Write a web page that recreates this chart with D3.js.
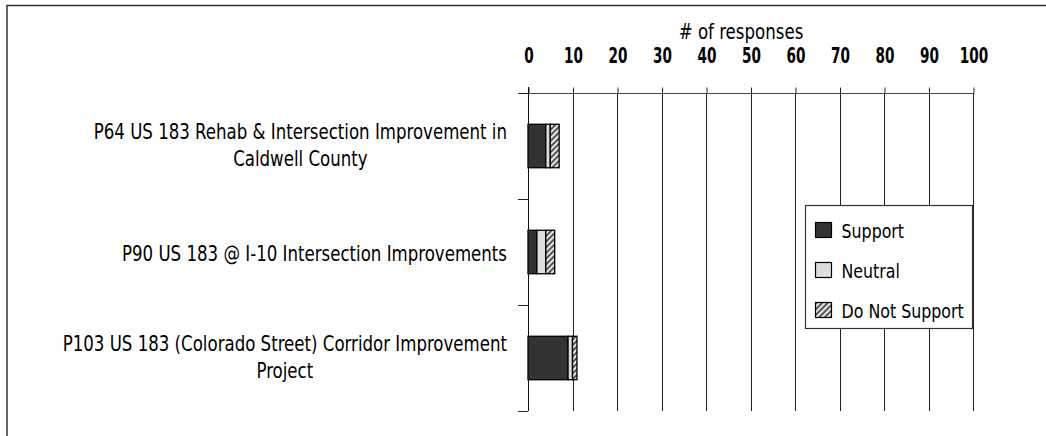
<!DOCTYPE html>
<html>
<head>
<meta charset="utf-8">
<script src="https://cdn.jsdelivr.net/npm/d3@7"></script>
<style>
  html, body { margin: 0; padding: 0; background: #fff; }
  svg { display: block; }
  text { font-family: "DejaVu Sans Condensed", "DejaVu Sans", sans-serif; fill: #000; }
</style>
</head>
<body>
<svg id="chart" width="1046" height="436"></svg>
<script>
// ---- data ----
const categories = [
  "P64 US 183 Rehab & Intersection Improvement in Caldwell County",
  "P90 US 183 @ I-10 Intersection Improvements",
  "P103 US 183 (Colorado Street) Corridor Improvement Project"
];
const categoryLines = [
  ["P64 US 183 Rehab & Intersection Improvement in", "Caldwell County"],
  ["P90 US 183 @ I-10 Intersection Improvements"],
  ["P103 US 183 (Colorado Street) Corridor Improvement", "Project"]
];
const seriesNames = ["Support", "Neutral", "Do Not Support"];
const supportValues = [4, 2, 9];
const neutralValues = [1, 2, 1];
const notSupportValues = [2, 2, 1];
const xTicks = [0, 10, 20, 30, 40, 50, 60, 70, 80, 90, 100];
const axisTitle = "# of responses";

// ---- setup ----
const svg = d3.select("#chart");
const defs = svg.append("defs");
const pat = defs.append("pattern")
  .attr("id", "hatch").attr("patternUnits", "userSpaceOnUse")
  .attr("width", 4).attr("height", 4)
  .attr("patternTransform", "rotate(45)");
pat.append("rect").attr("width", 4).attr("height", 4).attr("fill", "#e8e8e8");
pat.append("rect").attr("width", 2).attr("height", 4).attr("fill", "#555");

const fills = ["#333333", "#dddddd", "url(#hatch)"];

// narrow text helper (reference uses a condensed face)
function narrowText(parent, x, y, str, size, sx, anchor, weight) {
  return parent.append("text")
    .attr("transform", `translate(${x},${y}) scale(${sx},1)`)
    .attr("text-anchor", anchor || "start")
    .attr("font-size", size)
    .attr("font-weight", weight || "normal")
    .text(str);
}

// outer frame
svg.append("rect")
  .attr("x", 7).attr("y", 5.5).attr("width", 1100).attr("height", 500)
  .attr("fill", "none").attr("stroke", "#333").attr("stroke-width", 1.5);

const x = d3.scaleLinear().domain([0, 100]).range([528, 973]);
const yBand = d3.scaleBand().domain(categories).range([93, 411]).padding(0);
const yBar = d3.scaleBand().domain(categories).range([93, 411])
  .paddingInner(0.59).paddingOuter(0.295);

// gridlines
svg.append("g").selectAll("line").data(xTicks).join("line")
  .attr("x1", d => Math.round(x(d)) + 0.5).attr("x2", d => Math.round(x(d)) + 0.5)
  .attr("y1", 93).attr("y2", 411)
  .attr("stroke", "#222").attr("stroke-width", 1);

// top axis
const xAxis = d3.axisTop(x).tickValues(xTicks).tickSize(6).tickPadding(0).tickFormat(d3.format("d"));
const gx = svg.append("g").attr("transform", "translate(0.5,93.5)").call(xAxis);
gx.select(".domain").attr("stroke", "#444").attr("d", `M${x(0)-10},0H${x(100)}`);
gx.selectAll(".tick line").attr("stroke", "#222");
gx.selectAll(".tick text")
  .attr("y", null).attr("dy", null)
  .attr("transform", "translate(0,-31) scale(0.72,1)")
  .attr("font-size", 21).attr("font-weight", "bold").attr("fill", "#000")
  .style("font-family", '"DejaVu Sans Condensed", "DejaVu Sans", sans-serif');

// axis title
narrowText(svg, 741, 39, axisTitle, 21, 0.88, "middle");

// left axis line and ticks at band boundaries
const bounds = categories.map(c => yBand(c)).concat([yBand.range()[1]]);
svg.append("line").attr("x1", Math.round(x(0)) + 0.5).attr("x2", Math.round(x(0)) + 0.5)
  .attr("y1", 87).attr("y2", 411).attr("stroke", "#111");
svg.append("g").selectAll("line").data(bounds).join("line")
  .attr("x1", x(0) - 10).attr("x2", x(0))
  .attr("y1", d => Math.round(d) + 0.5).attr("y2", d => Math.round(d) + 0.5)
  .attr("stroke", "#222");

// stacked bars
const rows = categories.map((c, i) => ({ cat: c, Support: supportValues[i], Neutral: neutralValues[i], "Do Not Support": notSupportValues[i] }));
const stack = d3.stack().keys(seriesNames)(rows);
svg.append("g").selectAll("g").data(stack).join("g")
  .attr("fill", (d, i) => fills[i])
  .selectAll("rect").data(d => d).join("rect")
  .attr("x", d => x(d[0])).attr("width", d => x(d[1]) - x(d[0]))
  .attr("y", d => yBar(d.data.cat)).attr("height", yBar.bandwidth())
  .attr("stroke", "#000").attr("stroke-width", 1.3);

// category labels
const labelRight = 507;
const labelSx = 0.84;
categories.forEach((c, i) => {
  const lines = categoryLines[i];
  const cy = yBand(c) + yBand.bandwidth() / 2;
  const g = svg.append("g");
  const texts = lines.map((ln, j) =>
    narrowText(g, 0, cy + 9 - 16.5 * (lines.length - 1) + 27.5 * j, ln, 22, labelSx, "middle"));
  let maxW = 0;
  texts.forEach(t => { maxW = Math.max(maxW, t.node().getComputedTextLength() * labelSx); });
  texts.forEach((t, j) => {
    const yy = cy + 9 - 16.5 * (lines.length - 1) + 27.5 * j;
    t.attr("transform", `translate(${labelRight - maxW / 2},${yy}) scale(${labelSx},1)`);
  });
});

// legend
const lg = svg.append("g");
lg.append("rect").attr("x", 805.5).attr("y", 205.5).attr("width", 167).attr("height", 123)
  .attr("fill", "#fff").attr("stroke", "#333").attr("stroke-width", 1.2);
const items = lg.selectAll("g.item").data(seriesNames).join("g").attr("class", "item")
  .attr("transform", (d, i) => `translate(815.5,${222.5 + i * 40})`);
items.append("rect").attr("width", 16).attr("height", 15)
  .attr("fill", (d, i) => fills[i]).attr("stroke", "#000").attr("stroke-width", 1.2);
items.each(function (d) { narrowText(d3.select(this), 26, 15, d, 20, 0.88, "start"); });
</script>
</body>
</html>
